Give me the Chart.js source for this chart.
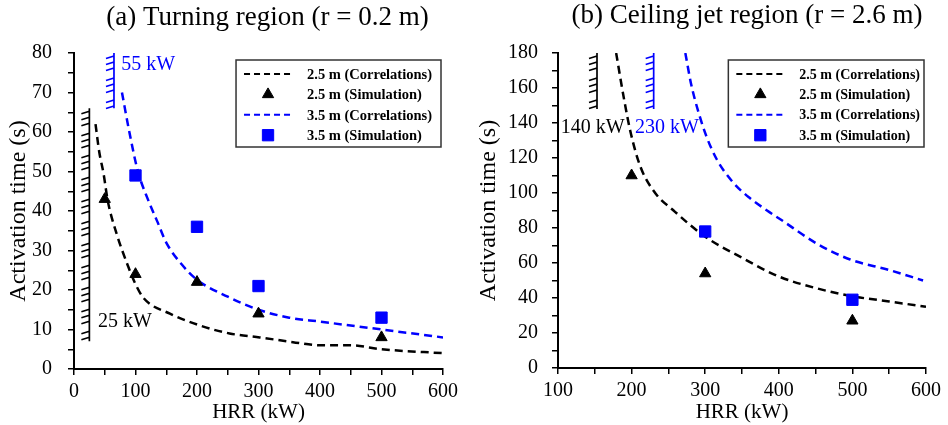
<!DOCTYPE html>
<html>
<head>
<meta charset="utf-8">
<title>Sprinkler activation time vs HRR</title>
<script src="https://cdn.jsdelivr.net/npm/chart.js@4.4.1/dist/chart.umd.min.js"></script>
<style>
  body { margin: 0; background: #fff; }
  #wrap { position: relative; width: 948px; height: 425px; }
  #left { position: absolute; left: 0; top: 0; }
  #right { position: absolute; left: 470px; top: 0; }
</style>
</head>
<body>
<div id="wrap">
  <canvas id="left" width="470" height="425"></canvas>
  <canvas id="right" width="478" height="425"></canvas>
</div>
<script>
//-----------------------------------------------------------------------------
// Data (HRR in kW, activation time in s)
//-----------------------------------------------------------------------------

// (a) turning region, r = 0.2 m
var turnCorr25Hrr  = [35, 41, 48, 55, 69, 88, 100, 113, 156, 205, 253, 302, 356, 400, 450, 500, 600];
var turnCorr25Time = [62, 55, 49.5, 42.5, 34.4, 26, 21.5, 18, 14, 11, 9, 8, 6.8, 6, 6, 5, 4];
var turnSim25Hrr   = [50, 100, 200, 300, 500];
var turnSim25Time  = [43, 24, 22, 14, 8];
var turnCorr35Hrr  = [78, 90, 104, 120, 135, 150, 175, 200, 250, 300, 350, 400, 500, 600];
var turnCorr35Time = [70, 60, 50, 43, 37.5, 32, 26.5, 22.6, 18.3, 15, 13, 12, 10, 8];
var turnSim35Hrr   = [100, 200, 300, 500];
var turnSim35Time  = [49, 36, 21, 13];

// (b) ceiling jet region, r = 2.6 m
var jetCorr25Hrr  = [179, 190, 199, 212, 232, 257, 300, 350, 400, 450, 500, 550, 600];
var jetCorr25Time = [180, 153, 134, 115, 100, 90, 75, 63, 52.3, 45.7, 41, 38, 35];
var jetSim25Hrr   = [200, 300, 500];
var jetSim25Time  = [110, 54, 27];
var jetCorr35Hrr  = [273, 281, 291, 302, 316, 338, 361, 384, 402, 452, 497, 550, 596];
var jetCorr35Time = [180, 162, 146, 132, 119, 106, 97, 90, 85, 71, 62, 56, 50];
var jetSim35Hrr   = [300, 500];
var jetSim35Time  = [78, 39];

// lower HRR limits (hatched walls): hrr, time span, label
var turnLimits = [
  { hrr: 25, from: 7, to: 66, color: '#000', label: '25 kW', at: [39, 12], align: 'left' },
  { hrr: 65, from: 66, to: 80, color: '#0000ff', label: '55 kW', at: [77, 77], align: 'left' }
];
var jetLimits = [
  { hrr: 153, from: 148, to: 180, color: '#000', label: '140 kW', at: [147, 137.5], align: 'center' },
  { hrr: 230, from: 148, to: 180, color: '#0000ff', label: '230 kW', at: [248, 137.5], align: 'center' }
];

var BLUE = '#0000ff';
var SERIF = '"Liberation Serif", "Times New Roman", serif';

function points(xs, ys) {
  return xs.map(function(x, i) { return { x: x, y: ys[i] }; });
}

function buildDatasets(c25x, c25y, s25x, s25y, c35x, c35y, s35x, s35y) {
  return [
    { label: '2.5 m (Correlations)', data: points(c25x, c25y), showLine: true, pointRadius: 0,
      borderColor: '#000', borderWidth: 2.5, borderDash: [8, 5], cubicInterpolationMode: 'monotone', order: 1 },
    { label: '2.5 m (Simulation)', data: points(s25x, s25y), pointStyle: 'triangle', pointRadius: 6.5,
      backgroundColor: '#000', borderColor: '#000', borderWidth: 1, order: 0 },
    { label: '3.5 m (Correlations)', data: points(c35x, c35y), showLine: true, pointRadius: 0,
      borderColor: BLUE, borderWidth: 2.5, borderDash: [8, 5], cubicInterpolationMode: 'monotone', order: 1 },
    { label: '3.5 m (Simulation)', data: points(s35x, s35y), pointStyle: 'rect', pointRadius: 8,
      backgroundColor: BLUE, borderColor: BLUE, borderWidth: 1, order: 0 }
  ];
}

//-----------------------------------------------------------------------------
// Decorations: panel title, hatched limits, boxed legend
//-----------------------------------------------------------------------------
function drawLimit(ctx, chart, lim) {
  var xs = chart.scales.x, ys = chart.scales.y;
  var x = xs.getPixelForValue(lim.hrr);
  var top = ys.getPixelForValue(lim.to);
  var bottom = ys.getPixelForValue(lim.from);
  ctx.strokeStyle = lim.color;
  ctx.lineWidth = 1.7;
  ctx.beginPath();
  ctx.moveTo(x, top);
  ctx.lineTo(x, bottom);
  // strokes come in groups of three, like the hand-drawn wall symbol
  var n = 0;
  for (var y = top + 3; y < bottom - 1; y += 6) {
    ctx.moveTo(x, y);
    ctx.lineTo(x - 8, y + 2.5);
    n++;
    if (n % 3 === 0) y += 4;
  }
  ctx.stroke();

  ctx.fillStyle = lim.color;
  ctx.font = '20px ' + SERIF;
  ctx.textAlign = lim.align;
  ctx.textBaseline = 'middle';
  ctx.fillText(lim.label, xs.getPixelForValue(lim.at[0]), ys.getPixelForValue(lim.at[1]));
}

function drawLegend(ctx, chart, opts) {
  var area = chart.chartArea;
  var sets = chart.data.datasets;
  ctx.font = 'bold ' + opts.legendFont + 'px ' + SERIF;
  var textW = 0;
  sets.forEach(function(ds) { textW = Math.max(textW, ctx.measureText(ds.label).width); });

  var right = area.right - 2;
  var left = right - (8 + 48 + 15 + textW + opts.legendPadRight);
  var top = area.top + 7;
  var bottom = top + 87;
  ctx.strokeStyle = '#333';
  ctx.lineWidth = 1.5;
  ctx.setLineDash([]);
  ctx.strokeRect(left, top, right - left, bottom - top);

  sets.forEach(function(ds, i) {
    var y = top + 14 + i * 20.4;
    var sx = left + 8, ex = left + 56;
    if (ds.showLine) {
      ctx.save();
      ctx.strokeStyle = ds.borderColor;
      ctx.lineWidth = 2;
      ctx.setLineDash([6, 4]);
      ctx.beginPath();
      ctx.moveTo(sx, y);
      ctx.lineTo(ex, y);
      ctx.stroke();
      ctx.restore();
    } else {
      ctx.fillStyle = ds.backgroundColor;
      ctx.strokeStyle = ds.borderColor;
      ctx.lineWidth = 1;
      Chart.helpers.drawPoint(ctx, { pointStyle: ds.pointStyle, radius: ds.pointRadius, rotation: 0, borderWidth: 1 },
        (sx + ex) / 2, y);
    }
    ctx.fillStyle = '#000';
    ctx.textAlign = 'left';
    ctx.textBaseline = 'middle';
    ctx.fillText(ds.label, ex + 15, y + 1);
  });
}

var decorPlugin = {
  id: 'decor',
  afterDatasetsDraw: function(chart, args, opts) {
    var ctx = chart.ctx, area = chart.chartArea;
    ctx.save();
    ctx.fillStyle = '#000';
    ctx.font = '27px ' + SERIF;
    ctx.textAlign = 'center';
    ctx.textBaseline = 'alphabetic';
    ctx.fillText(opts.title, (area.left + area.right) / 2 + opts.titleShift, opts.titleBaseline);

    opts.limits.forEach(function(lim) { drawLimit(ctx, chart, lim); });
    drawLegend(ctx, chart, opts);
    ctx.restore();
  }
};

//-----------------------------------------------------------------------------
// Axes with outward ticks, labels only on major steps
//-----------------------------------------------------------------------------
function axis(min, max, step, labelEvery, title, fit, tickPad) {
  return {
    type: 'linear',
    min: min,
    max: max,
    afterFit: fit,
    border: { display: true, color: '#000', width: 2 },
    grid: { drawOnChartArea: false, drawTicks: true, tickLength: 6, color: '#000', lineWidth: 1.5 },
    ticks: {
      stepSize: step,
      autoSkip: false,
      maxRotation: 0,
      padding: tickPad,
      color: '#000',
      font: { family: SERIF, size: 20 },
      callback: function(v) { return v % labelEvery === 0 ? String(v) : ''; }
    },
    title: { display: true, text: title, color: '#000', padding: { top: 0, bottom: 0 } }
  };
}

function makeChart(id, cfg) {
  var x = axis(cfg.xMin, 600, 50, 100, 'HRR (kW)', function(s) { s.height = cfg.xHeight; }, 5);
  x.title.font = { family: SERIF, size: 21 };
  var y = axis(0, cfg.yMax, cfg.yStep, cfg.yLabelEvery, 'Activation time (s)',
    function(s) { s.width = cfg.yWidth; }, cfg.yPad);
  y.title.font = { family: SERIF, size: 24 };
  y.title.padding = { top: 4, bottom: 4 };

  return new Chart(document.getElementById(id), {
    type: 'scatter',
    data: { datasets: cfg.datasets },
    plugins: [decorPlugin],
    options: {
      responsive: false,
      animation: false,
      devicePixelRatio: 1,
      layout: { padding: { left: 0, right: cfg.padRight, top: 53, bottom: 0 } },
      scales: { x: x, y: y },
      plugins: {
        legend: { display: false },
        tooltip: { enabled: false },
        decor: {
          title: cfg.title,
          titleShift: cfg.titleShift,
          titleBaseline: cfg.titleBaseline,
          limits: cfg.limits,
          legendFont: cfg.legendFont,
          legendPadRight: cfg.legendPadRight
        }
      }
    }
  });
}

makeChart('left', {
  title: '(a) Turning region (r = 0.2 m)',
  titleShift: 9, titleBaseline: 25,
  xMin: 0, yMax: 80, yStep: 5, yLabelEvery: 10,
  yWidth: 74, xHeight: 56, padRight: 27, yPad: 16,
  legendFont: 14.5, legendPadRight: 9,
  limits: turnLimits,
  datasets: buildDatasets(turnCorr25Hrr, turnCorr25Time, turnSim25Hrr, turnSim25Time,
    turnCorr35Hrr, turnCorr35Time, turnSim35Hrr, turnSim35Time)
});

makeChart('right', {
  title: '(b) Ceiling jet region (r = 2.6 m)',
  titleShift: 5, titleBaseline: 23,
  xMin: 100, yMax: 180, yStep: 10, yLabelEvery: 20,
  yWidth: 88, xHeight: 57, padRight: 22, yPad: 14,
  legendFont: 14, legendPadRight: 4,
  limits: jetLimits,
  datasets: buildDatasets(jetCorr25Hrr, jetCorr25Time, jetSim25Hrr, jetSim25Time,
    jetCorr35Hrr, jetCorr35Time, jetSim35Hrr, jetSim35Time)
});
</script>
</body>
</html>
